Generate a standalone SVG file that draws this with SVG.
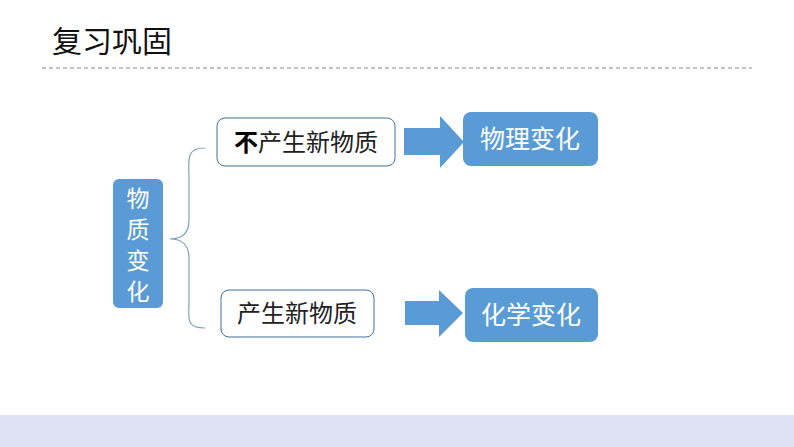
<svg xmlns="http://www.w3.org/2000/svg" width="794" height="447" viewBox="0 0 794 447">
<style>
text{font-family:"Noto Sans CJK SC","Liberation Sans",sans-serif}
.w{fill:#fff;stroke:#41719c;stroke-width:1}
.b{fill:#5b9bd5}
.wt{fill:#222;font-size:24px;text-anchor:middle}
.bt{fill:#fff;font-size:25px;text-anchor:middle}
.vt{fill:#fff;font-size:23px;text-anchor:middle}
</style>
<rect width="794" height="447" fill="#fff"/>
<rect y="415" width="794" height="32" fill="#dde3f3"/>
<text x="52" y="52" font-size="30" fill="#111">复习巩固</text>
<line x1="42" y1="68" x2="752" y2="68" stroke="#888" stroke-dasharray="4,3"/>
<g id="connectors" fill="none">
<path d="M205,148 C185,148 189,160 189,180 L189,220 C189,234 182,239 170,239 C182,239 189,244 189,258 L189,300 C189,318 185,328 205,328" stroke="#7f9fbf" stroke-width="1.2"/>
<polygon class="b" points="404,128 440,128 440,116 464,142 440,168 440,155 404,155"/>
<polygon class="b" points="405,301 439,301 439,290 463,313 439,337 439,325 405,325"/>
</g>
<g id="n-root"><rect class="b" x="113" y="179" width="50" height="129" rx="6"/>
<text class="vt" x="138" y="207">物</text><text class="vt" x="138" y="238">质</text><text class="vt" x="138" y="269">变</text><text class="vt" x="138" y="300">化</text></g>
<g id="n-no"><rect class="w" x="217" y="118" width="178" height="48" rx="8"/><text class="wt" x="306" y="151"><tspan font-weight="600" fill="#000">不</tspan>产生新物质</text></g>
<g id="n-yes"><rect class="w" x="221" y="290" width="153" height="47" rx="8"/><text class="wt" x="297" y="322">产生新物质</text></g>
<g id="n-phys"><rect class="b" x="463" y="112" width="135" height="54" rx="8"/><text class="bt" x="530" y="148">物理变化</text></g>
<g id="n-chem"><rect class="b" x="465" y="288" width="133" height="54" rx="8"/><text class="bt" x="531" y="324">化学变化</text></g>
</svg>
